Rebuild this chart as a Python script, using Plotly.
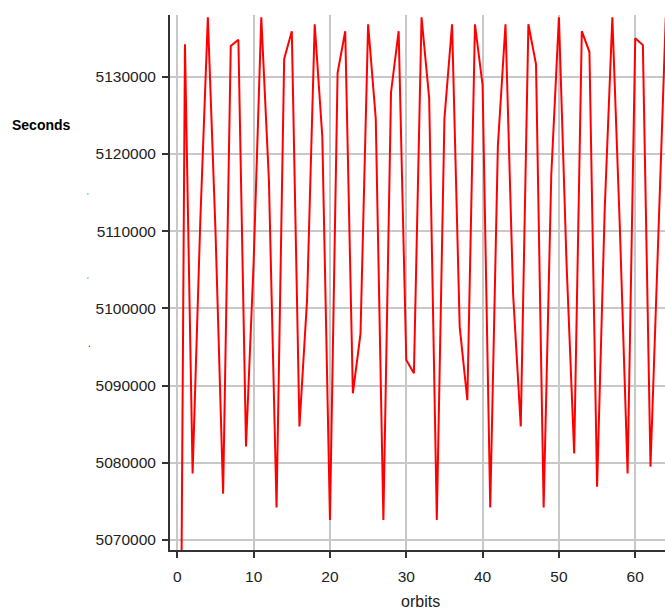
import plotly.graph_objects as go

orbits = list(range(0, 65))
seconds = [
    4985000, 5134200, 5078600, 5111000, 5137700, 5110000, 5076000, 5134000,
    5134800, 5082100, 5106000, 5137700, 5116600, 5074200, 5132300, 5135900,
    5084700, 5101100, 5136800, 5122200, 5072600, 5130500, 5135900, 5089000,
    5096700, 5136800, 5124600, 5072600, 5128000, 5135900, 5093300, 5091600,
    5137700, 5127200, 5072600, 5124600, 5136800, 5097600, 5088100, 5136800,
    5128900, 5074200, 5121000, 5136800, 5101800, 5084700, 5136800, 5131600,
    5074200, 5117300, 5137700, 5105800, 5081200, 5135900, 5133200, 5076900,
    5112800, 5137700, 5110000, 5078600, 5135000, 5134100, 5079500, 5108500,
    5137700,
]
x_ticks = [0, 10, 20, 30, 40, 50, 60]
y_ticks = [5070000, 5080000, 5090000, 5100000, 5110000, 5120000, 5130000]

W, H = 665, 611
L, R, T, B = 170, 0, 15, 61

fig = go.Figure()
fig.add_trace(go.Scatter(
    x=orbits, y=seconds, mode="lines",
    line=dict(color="#ff0000", width=2),
    showlegend=False, hoverinfo="skip",
))

axis_common = dict(
    showline=True, linecolor="#333333", linewidth=2,
    ticks="outside", ticklen=6, tickwidth=2, tickcolor="#333333",
    showgrid=True, gridcolor="#c8c8c8", gridwidth=1.5,
    zeroline=False,
    tickfont=dict(family="Liberation Sans, Arial, sans-serif", size=15.5, color="#222222"),
)

fig.update_layout(
    width=W, height=H,
    margin=dict(l=L, r=R, t=T, b=B),
    paper_bgcolor="white", plot_bgcolor="white",
    xaxis=dict(range=[-0.96, 63.9], tickvals=x_ticks, ticktext=[str(v) for v in x_ticks],
               ticklabelstandoff=5, **axis_common),
    yaxis=dict(range=[5068700, 5138000], tickvals=y_ticks, ticktext=[str(v) for v in y_ticks],
               ticklabelstandoff=3, **axis_common),
    annotations=[
        dict(text="<b>Seconds</b>", xref="paper", yref="paper",
             x=(10 - L) / (W - L - R), y=(H - B - 125) / (H - T - B),
             xanchor="left", yanchor="middle", showarrow=False,
             font=dict(family="Liberation Sans, Arial, sans-serif", size=14, color="#000000")),
        dict(text="orbits", xref="paper", yref="paper",
             x=(420 - L) / (W - L - R), y=(H - B - 601) / (H - T - B),
             xanchor="center", yanchor="middle", showarrow=False,
             font=dict(family="Liberation Sans, Arial, sans-serif", size=16, color="#222222")),
        dict(text="'", xref="paper", yref="paper",
             x=(88 - L) / (W - L - R), y=(H - B - 194) / (H - T - B),
             xanchor="center", yanchor="middle", showarrow=False,
             font=dict(size=8, color="#555555")),
        dict(text=",", xref="paper", yref="paper",
             x=(88 - L) / (W - L - R), y=(H - B - 274) / (H - T - B),
             xanchor="center", yanchor="middle", showarrow=False,
             font=dict(size=8, color="#555555")),
        dict(text=".", xref="paper", yref="paper",
             x=(89 - L) / (W - L - R), y=(H - B - 343) / (H - T - B),
             xanchor="center", yanchor="middle", showarrow=False,
             font=dict(size=10, color="#333333")),
    ],
)

fig.write_html("out.html")
